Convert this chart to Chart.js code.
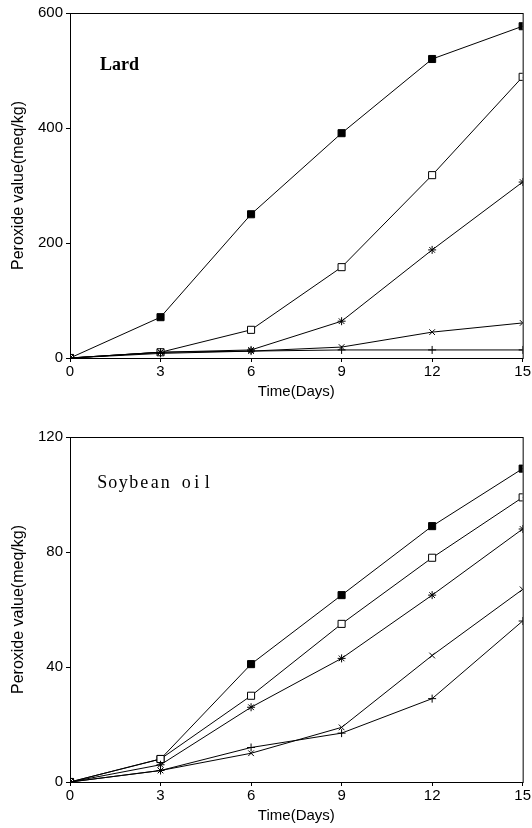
<!DOCTYPE html>
<html>
<head>
<meta charset="utf-8">
<script src="https://cdn.jsdelivr.net/npm/chart.js@4.4.1/dist/chart.umd.min.js"></script>
<style>
  html, body { margin: 0; padding: 0; background: #fff; }
  #wrap { position: relative; width: 532px; height: 828px; }
  canvas { position: absolute; left: 0; }
</style>
</head>
<body>
<div id="wrap">
  <canvas id="lardChart" width="532" height="414" style="top:0"></canvas>
  <canvas id="soyChart" width="532" height="414" style="top:414px"></canvas>
</div>
<script>
// storage time in days
const days = [0, 3, 6, 9, 12, 15];

// Lard, peroxide value (meq/kg)
const lardFilledSquare = [0, 71, 250, 391, 520, 577];
const lardOpenSquare   = [0, 10, 49, 158, 318, 489];
const lardStar         = [0, 10, 14, 64, 188, 306];
const lardCross        = [0, 10, 12, 19, 45, 61];
const lardPlus         = [0, 8, 12, 14, 14, 14];

// Soybean oil, peroxide value (meq/kg)
const soyFilledSquare = [0, 8, 41, 65, 89, 109];
const soyOpenSquare   = [0, 8, 30, 55, 78, 99];
const soyStar         = [0, 6, 26, 43, 65, 88];
const soyCross        = [0, 4, 10, 19, 44, 67];
const soyPlus         = [0, 4, 12, 17, 29, 56];

const lardTicks = [0, 200, 400, 600];
const soyTicks = [0, 40, 80, 120];

const markerStyles = [
  { pointStyle: 'rect', radius: 5, fill: '#000' },
  { pointStyle: 'rect', radius: 5, fill: '#fff' },
  { pointStyle: 'star', radius: 4, fill: '#000' },
  { pointStyle: 'crossRot', radius: 4, fill: '#000' },
  { pointStyle: 'cross', radius: 4, fill: '#000' }
];

function makeDatasets(seriesList) {
  return seriesList.map((vals, i) => ({
    data: days.map((d, j) => ({ x: d, y: vals[j] })),
    borderColor: '#000',
    borderWidth: 1,
    backgroundColor: markerStyles[i].fill,
    pointStyle: markerStyles[i].pointStyle,
    pointRadius: markerStyles[i].radius,
    pointBorderColor: '#000',
    pointBorderWidth: 1,
    pointBackgroundColor: markerStyles[i].fill,
    fill: false,
    tension: 0,
    order: 5 - i
  }));
}

// frame round the plot area + panel label
const framePlugin = {
  id: 'frame',
  afterDatasetsDraw(chart, args, opts) {
    const { ctx, chartArea: a } = chart;
    ctx.save();
    ctx.strokeStyle = '#000';
    ctx.lineWidth = 1;
    ctx.strokeRect(a.left + 0.5, a.top + 0.5, a.right - a.left, a.bottom - a.top);
    ctx.fillStyle = '#000';
    ctx.font = opts.font;
    ctx.textBaseline = 'middle';
    if (opts.cell) {
      // typewriter look: every letter in a fixed-width cell
      ctx.textAlign = 'center';
      [...opts.text].forEach((ch, k) => {
        ctx.fillText(ch, a.left + opts.dx + opts.cell * (k + 0.5), a.top + opts.dy);
      });
    } else {
      ctx.fillText(opts.text, a.left + opts.dx, a.top + opts.dy);
    }
    ctx.restore();
  }
};

function buildChart(id, seriesList, ticks, label, pad) {
  const ctx = document.getElementById(id).getContext('2d');
  return new Chart(ctx, {
    type: 'line',
    data: { datasets: makeDatasets(seriesList) },
    plugins: [framePlugin],
    options: {
      responsive: false,
      animation: false,
      layout: { padding: pad },
      plugins: {
        legend: { display: false },
        tooltip: { enabled: false },
        frame: label
      },
      scales: {
        x: {
          type: 'linear',
          min: 0,
          max: 15,
          afterBuildTicks: s => { s.ticks = days.map(v => ({ value: v })); },
          afterFit: s => { s.height = 46; },
          ticks: { color: '#000', padding: 1, font: { family: 'Liberation Sans', size: 15 } },
          grid: { drawOnChartArea: false, tickLength: 4, color: '#000' },
          border: { color: '#000' },
          title: { display: true, text: 'Time(Days)', color: '#000', padding: { top: 0, bottom: 3 },
                   font: { family: 'Liberation Sans', size: 15 } }
        },
        y: {
          min: ticks[0],
          max: ticks[ticks.length - 1],
          afterBuildTicks: s => { s.ticks = ticks.map(v => ({ value: v })); },
          afterFit: s => { s.width = 70; },
          ticks: { color: '#000', padding: 3, font: { family: 'Liberation Sans', size: 15 } },
          grid: { drawOnChartArea: false, tickLength: 4, color: '#000' },
          border: { color: '#000' },
          title: { display: true, text: 'Peroxide value(meq/kg)', color: '#000', padding: { top: 9, bottom: 0 },
                   font: { family: 'Liberation Sans', size: 16 } }
        }
      }
    }
  });
}

buildChart('lardChart',
  [lardFilledSquare, lardOpenSquare, lardStar, lardCross, lardPlus],
  lardTicks,
  { text: 'Lard', font: 'bold 18px "Liberation Serif"', dx: 30, dy: 52 },
  { top: 13, right: 9, bottom: 10, left: 0 });

buildChart('soyChart',
  [soyFilledSquare, soyOpenSquare, soyStar, soyCross, soyPlus],
  soyTicks,
  { text: 'Soybean oil', font: '18px "Liberation Serif"', cell: 10.5, dx: 27, dy: 46 },
  { top: 23, right: 9, bottom: 0, left: 0 });
</script>
</body>
</html>
